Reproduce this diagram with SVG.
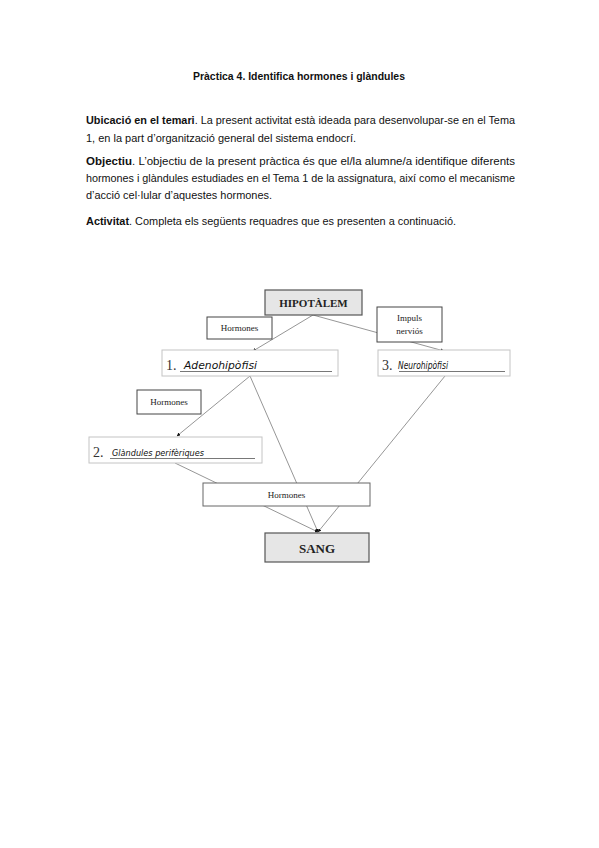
<svg xmlns="http://www.w3.org/2000/svg" width="599" height="848" viewBox="0 0 599 848">
<style>
.body{font-family:"Liberation Sans",Arial,sans-serif;font-size:10.5px;fill:#111}
.b{font-weight:bold}
.lbl{font-family:"Liberation Serif","Times New Roman",serif;font-size:9px;fill:#222}
.num{font-family:"Liberation Serif","Times New Roman",serif;font-size:14px;fill:#333}
.hand{font-family:"DejaVu Sans",sans-serif;font-size:10px;fill:#111;font-style:italic}
.gray{fill:#e6e6e6;stroke:#555;stroke-width:1.2}
.tag{fill:#fff;stroke:#444;stroke-width:1}
.slot{fill:#fff;stroke:#c4c4c4;stroke-width:1}
.ul{stroke:#555;stroke-width:0.8}
.conn line{stroke:#8a8a8a;stroke-width:0.9}
</style>
<defs>
<marker id="ah" viewBox="0 0 6 6" refX="5.5" refY="3" markerWidth="4" markerHeight="4" orient="auto">
<path d="M0,0 L6,3 L0,6 z" fill="#111"/>
</marker>
</defs>
<rect width="599" height="848" fill="#fff"/>

<g id="text">
<text class="body b" x="299" y="80" text-anchor="middle" textLength="212" lengthAdjust="spacingAndGlyphs">Pràctica 4. Identifica hormones i glàndules</text>
<text class="body" x="86" y="124" textLength="429" lengthAdjust="spacingAndGlyphs"><tspan class="b">Ubicació en el temari</tspan>.  La present activitat està ideada para desenvolupar-se en el Tema</text>
<text class="body" x="86" y="142" textLength="270" lengthAdjust="spacingAndGlyphs">1,  en la part d’organització general del sistema endocrí.</text>
<text class="body" x="86" y="165" textLength="429" lengthAdjust="spacingAndGlyphs"><tspan class="b">Objectiu</tspan>.  L’objectiu de la present pràctica és que el/la alumne/a identifique diferents</text>
<text class="body" x="86" y="182" textLength="429" lengthAdjust="spacingAndGlyphs">hormones i glàndules estudiades en el Tema 1 de la assignatura, així como el mecanisme</text>
<text class="body" x="86" y="199" textLength="186" lengthAdjust="spacingAndGlyphs">d’acció cel·lular d’aquestes hormones.</text>
<text class="body" x="86" y="225" textLength="370" lengthAdjust="spacingAndGlyphs"><tspan class="b">Activitat</tspan>.  Completa els següents requadres que es presenten a continuació.</text>
</g>

<g id="connectors" class="conn">
<line x1="313" y1="315" x2="253" y2="351" marker-end="url(#ah)"/>
<line x1="313" y1="315" x2="444" y2="351" marker-end="url(#ah)"/>
<line x1="250" y1="376" x2="177" y2="436" marker-end="url(#ah)"/>
<line x1="250" y1="376" x2="318" y2="532" marker-end="url(#ah)"/>
<line x1="445" y1="376" x2="318" y2="532" marker-end="url(#ah)"/>
<line x1="175" y1="463" x2="318" y2="532" marker-end="url(#ah)"/>
</g>

<g id="hipotalem">
<rect class="gray" x="265" y="290" width="97" height="25"/>
<text class="lbl b" x="313.5" y="306.5" text-anchor="middle" style="font-size:11px">HIPOTÀLEM</text>
</g>

<g id="hormones1">
<rect class="tag" x="207" y="317" width="65" height="22"/>
<text class="lbl" x="239.5" y="331" text-anchor="middle">Hormones</text>
</g>

<g id="impuls">
<rect class="tag" x="377" y="307" width="65" height="35"/>
<text class="lbl" x="409.5" y="321" text-anchor="middle">Impuls</text>
<text class="lbl" x="409.5" y="334" text-anchor="middle">nerviós</text>
</g>

<g id="box1">
<rect class="slot" x="162" y="350" width="176" height="26"/>
<text class="num" x="166" y="370">1.</text>
<line class="ul" x1="180" y1="371.5" x2="332" y2="371.5"/>
<text class="hand" x="184" y="369" textLength="73" lengthAdjust="spacingAndGlyphs">Adenohipòfisi</text>
</g>

<g id="box3">
<rect class="slot" x="378" y="350" width="132" height="26"/>
<text class="num" x="382" y="370">3.</text>
<line class="ul" x1="399" y1="371.5" x2="505" y2="371.5"/>
<text class="hand" x="398" y="369" textLength="50" lengthAdjust="spacingAndGlyphs">Neurohipòfisi</text>
</g>

<g id="hormones2">
<rect class="tag" x="137" y="390" width="64" height="24"/>
<text class="lbl" x="169" y="405" text-anchor="middle">Hormones</text>
</g>

<g id="box2">
<rect class="slot" x="89" y="437" width="173" height="26"/>
<text class="num" x="93" y="457">2.</text>
<line class="ul" x1="110" y1="458.5" x2="255" y2="458.5"/>
<text class="hand" x="112" y="456" textLength="92" lengthAdjust="spacingAndGlyphs" style="font-size:8px">Glàndules perifèriques</text>
</g>

<g id="hormones3">
<rect fill="#fff" stroke="#666" stroke-width="1" x="203" y="483" width="167" height="23"/>
<text class="lbl" x="286.5" y="497.5" text-anchor="middle">Hormones</text>
</g>

<g id="sang">
<rect class="gray" x="265" y="533" width="104" height="29"/>
<text class="lbl b" x="317" y="552.5" text-anchor="middle" style="font-size:13px">SANG</text>
</g>
</svg>
